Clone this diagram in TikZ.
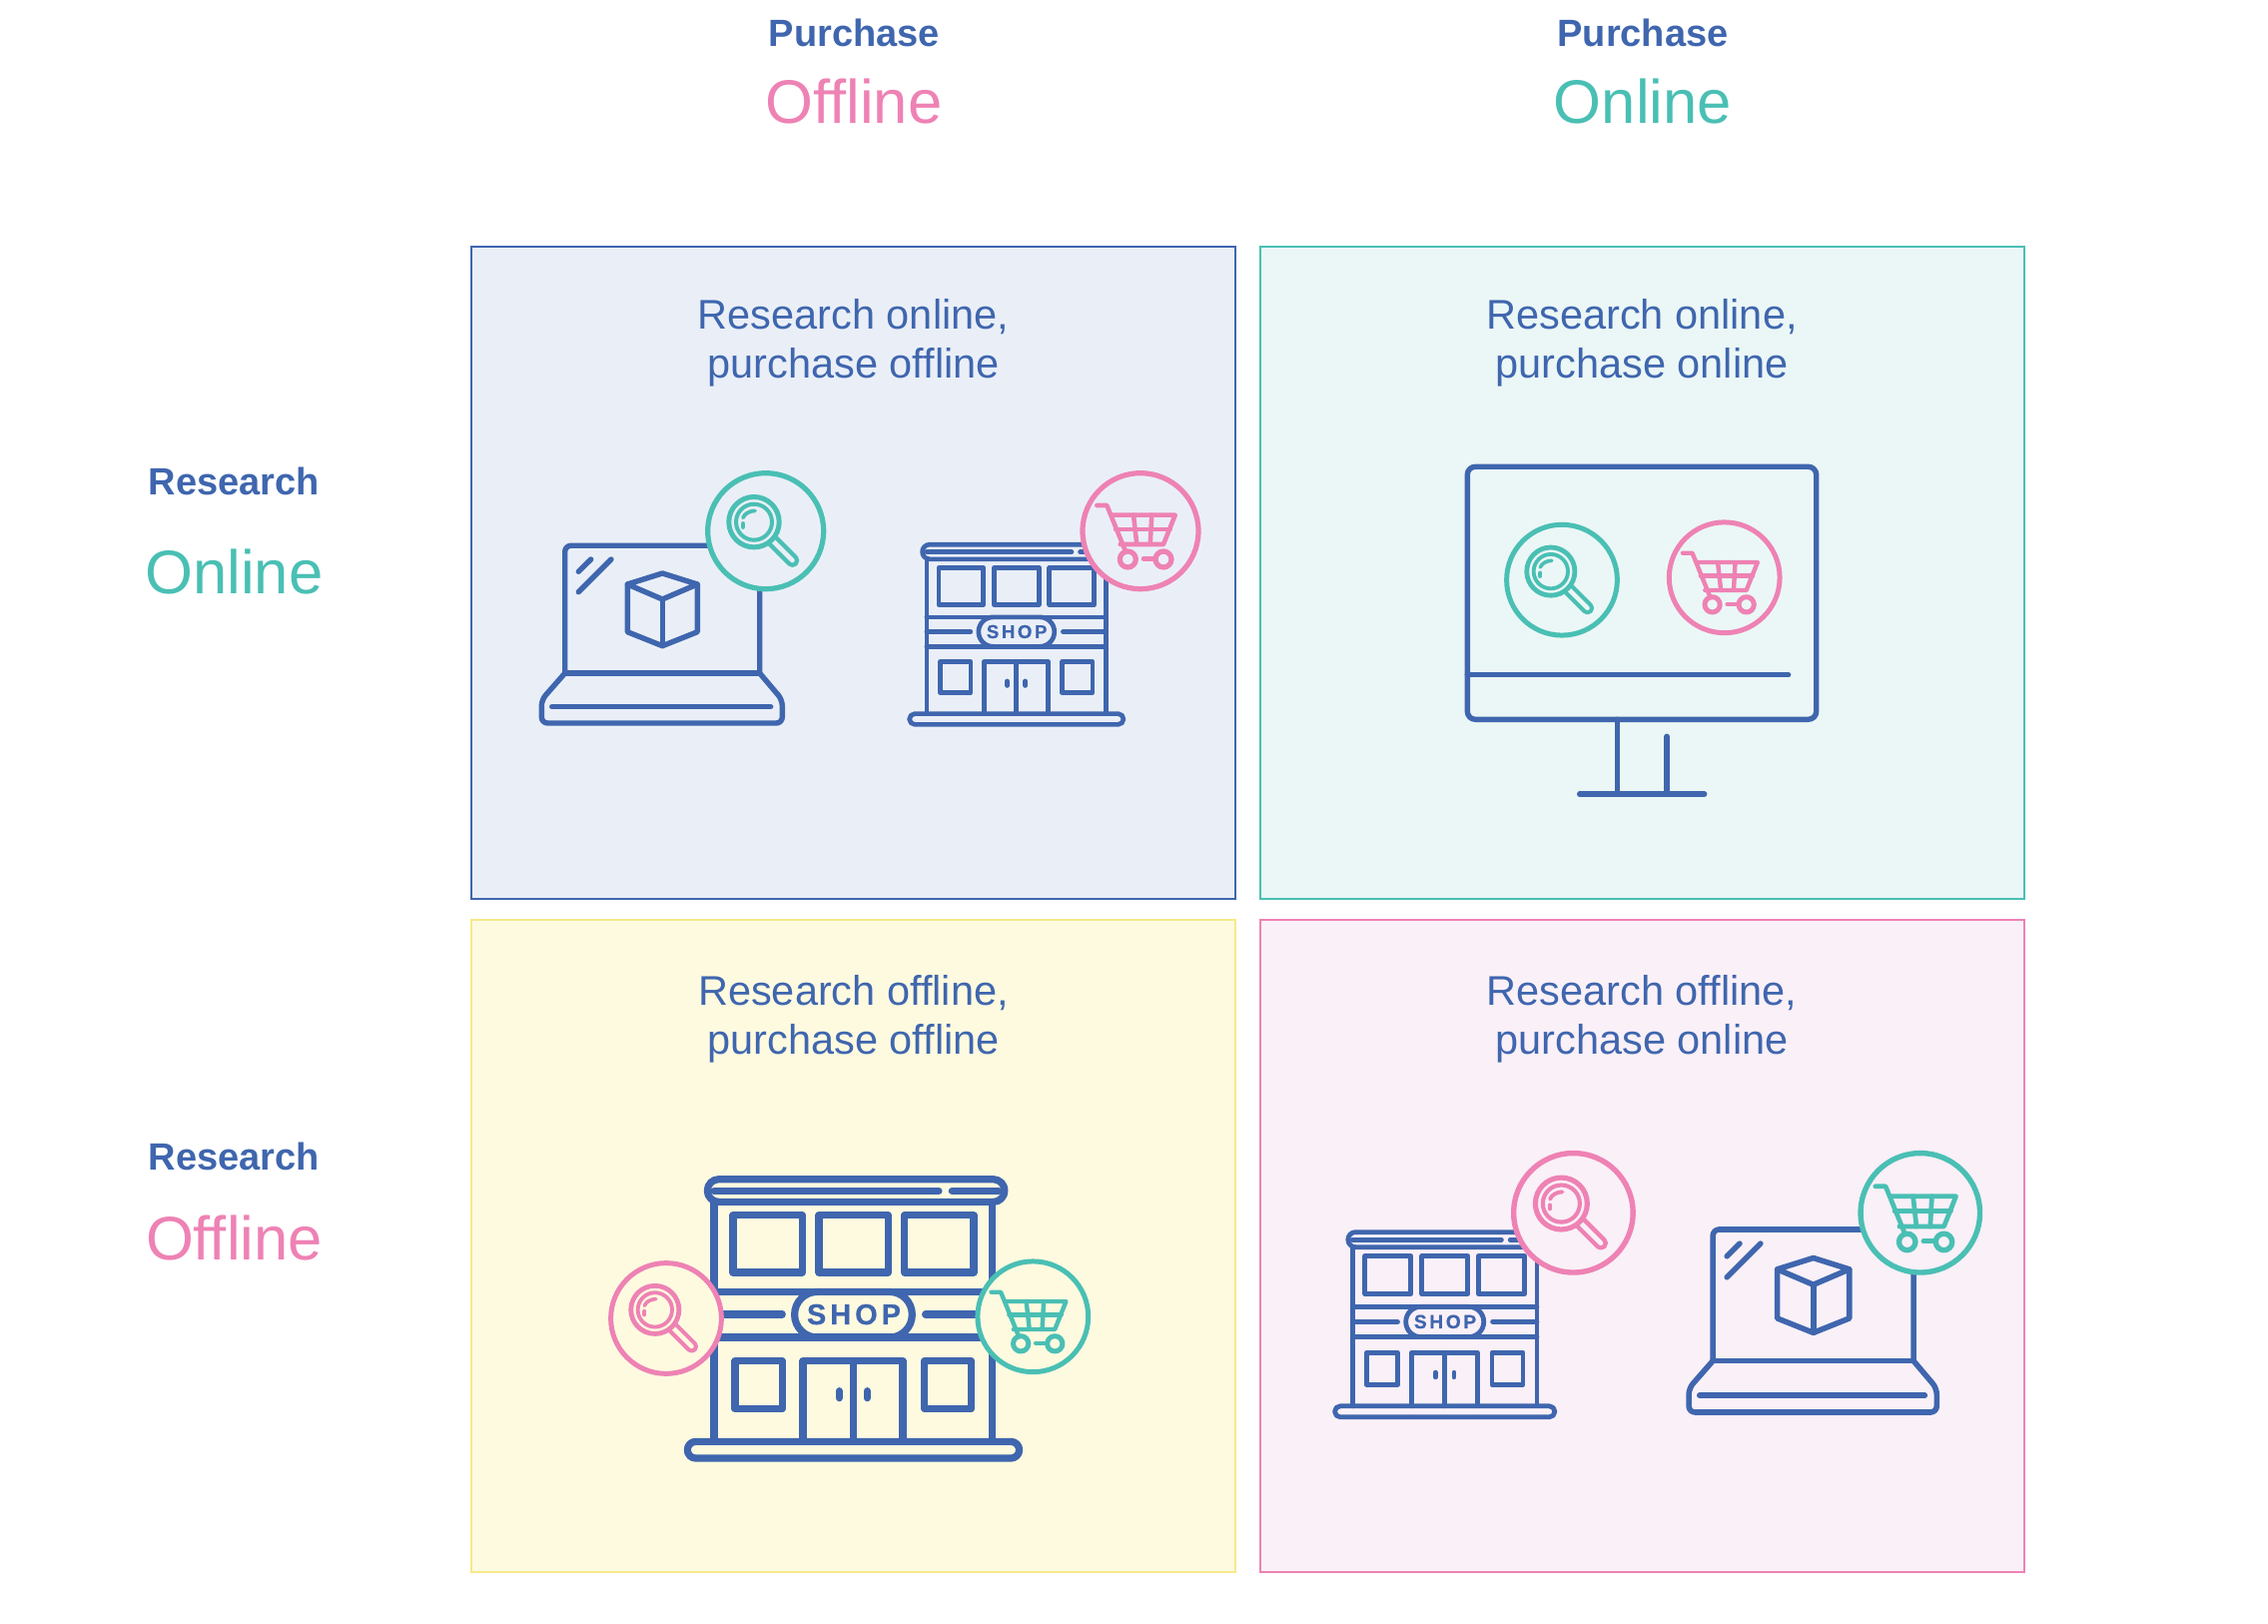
\documentclass[tikz,border=0pt]{standalone}
\usepackage{fontspec}
\setmainfont{Liberation Sans}
\newfontfamily\shopfont{Liberation Sans}[LetterSpace=14,BoldFeatures={FakeBold=0.7}]
\definecolor{iblue}{HTML}{3F66AE}
\definecolor{iteal}{HTML}{4ABFB4}
\definecolor{ipink}{HTML}{EE82B4}
\definecolor{iyellow}{HTML}{F7E98A}
\definecolor{bgblue}{HTML}{EAEFF7}
\definecolor{bgteal}{HTML}{EBF7F6}
\definecolor{bgyellow}{HTML}{FEFAE0}
\definecolor{bgpink}{HTML}{FAF0F7}
\tikzset{
  quad/.style={line width=1pt},
  heading/.style={font=\bfseries\fontsize{19}{19}\selectfont,text=iblue,inner sep=0pt},
  bigword/.style={font=\fontsize{30.8}{30.8}\selectfont,inner sep=0pt},
  caption/.style={font=\fontsize{20.75}{24.6}\selectfont,text=iblue,align=center,inner sep=0pt},
  icon/.style={draw=iblue,line cap=round,line join=round},
}
% magnifier badge: x, y, scale, colour, background
\newcommand\magbadge[5]{%
  \begin{scope}[shift={(#1,#2)},scale=#3,line cap=round,line join=round]
    \draw[draw=#4,fill=#5,line width=#3*2.6pt] (0,0) circle[radius=58];
    \begin{scope}[shift={(-11.7,-9)}]
      \draw[draw=#4,line width=#3*2.5pt] (0,0) circle[radius=25.2];
      \draw[draw=#4,line width=#3*2pt] (0,0) circle[radius=18];
      \draw[draw=#4,line width=#3*1.9pt] (-11,-4.3) .. controls (-9.5,-8.5) and (-4,-11.3) .. (1,-11.3);
      \draw[draw=#4,line width=#3*2.2pt] (-11,1.6) -- (-11,5);
      \begin{scope}[rotate=-45]
        \draw[draw=#4,line width=#3*2.1pt,rounded corners=#3*2.2pt] (26.5,-4.6) -- (59,-4.6) -- (59,4.6) -- (26.5,4.6);
      \end{scope}
    \end{scope}
  \end{scope}}
% cart badge
\newcommand\cartbadge[5]{%
  \begin{scope}[shift={(#1,#2)},scale=#3,line cap=round,line join=round,line width=#3*2.3pt]
    \draw[draw=#4,fill=#5,line width=#3*2.6pt] (0,0) circle[radius=58];
    \draw[draw=#4] (-43.7,-25.7) -- (-33.7,-25.7) -- (-14.7,21);
    \draw[draw=#4] (-28.7,-16) -- (34.7,-16) -- (23,13.3) -- (-20.3,13.3);
    \draw[draw=#4] (-25,-1.7) -- (29.7,-1.7);
    \draw[draw=#4] (-7,-16) -- (-3.7,13.3);
    \draw[draw=#4] (11.3,-16) -- (9.7,13.3);
    \draw[draw=#4,line width=#3*2.6pt] (-12.7,28.3) circle[radius=8];
    \draw[draw=#4,line width=#3*2.6pt] (23,28.3) circle[radius=8];
    \draw[draw=#4] (3,27.7) -- (15,27.7);
  \end{scope}}
% laptop with box on its screen: x, y, scale
\newcommand\laptopicon[3]{%
  \begin{scope}[shift={(#1,#2)},scale=#3,icon,line width=#3*2.7pt]
    \draw[rounded corners=#3*3pt] (-97.6,-50) -- (-97.6,-177.7) -- (97.4,-177.7) -- (97.4,-50);
    \draw (-97.6,-50) -- (97.4,-50);
    \draw[rounded corners=#3*3pt] (-97.6,-50) -- (-121,-23.3) -- (-121,0) -- (120,0) -- (120,-23.3) -- (97.4,-50);
    \draw (-110.6,-16.3) -- (108.4,-16.3);
    \draw (-35,-139) -- (0,-150) -- (35,-139) -- (0,-124) -- cycle;
    \draw (-35,-139) -- (-35,-91.3) -- (0,-77.3) -- (35,-91.3) -- (35,-139);
    \draw (0,-124) -- (0,-77.3);
    \draw (-84,-151.7) -- (-71.6,-164);
    \draw (-84,-131.3) -- (-51.3,-164);
  \end{scope}}
% shop front: node name, x, y, scale
\newcommand\shopicon[4]{%
  \pgfmathsetmacro\shopfs{43.3*#4}%
  \begin{scope}[shift={(#2,#3)},scale=#4,icon,line width=#4*10.8pt]
    \draw[rounded corners=#4*17pt] (-438,-813) rectangle (455,-745);
    \draw (-418,-778) -- (257,-778);
    \draw (297,-778) -- (437,-778);
    \draw (-418,-745) -- (-418,-25);
    \draw (418,-745) -- (418,-25);
    \draw (-361,-705) rectangle (-153,-533);
    \draw (-103,-705) rectangle (105,-533);
    \draw (154,-705) rectangle (362,-533);
    \draw (-418,-475) -- (418,-475);
    \draw (-418,-338) -- (418,-338);
    \draw[rounded corners=#4*34pt] (-176,-475) rectangle (177,-338);
    \draw (-418,-407) -- (-213,-407);
    \draw (217,-407) -- (418,-407);
    \node[inner sep=0pt,text=iblue,font=\shopfont\bfseries\fontsize{\shopfs}{\shopfs}\selectfont] (#1) at (2,-407) {SHOP};
    \draw (-355,-267) rectangle (-213,-123);
    \draw (214,-267) rectangle (355,-123);
    \draw (-151,-25) -- (-151,-267) -- (149,-267) -- (149,-25);
    \draw (0,-267) -- (0,-25);
    \draw (-42,-177) -- (-42,-156);
    \draw (42,-177) -- (42,-156);
    \draw[rounded corners=#4*12.5pt] (-498,-25) rectangle (499,25);
  \end{scope}}
\begin{document}
\begin{tikzpicture}[x=0.5pt,y=-0.5pt]
\useasboundingbox (0,0) rectangle (2271,1626);
% quadrants
\draw[quad,draw=iblue,fill=bgblue] (471.7,247) rectangle (1237,899.5);
\draw[quad,draw=iteal,fill=bgteal] (1261.7,247) rectangle (2027,899.5);
\draw[quad,draw=iyellow,fill=bgyellow] (471.7,921) rectangle (1237,1574);
\draw[quad,draw=ipink,fill=bgpink] (1261.7,921) rectangle (2027,1574);
% headings
\node[heading] (pa) at (855.5,33) {Purchase};
\node[bigword,text=ipink] (pb) at (855,101.5) {Offline};
\node[heading] (pc) at (1645,33) {Purchase};
\node[bigword,text=iteal] (pd) at (1645,101.5) {Online};
\node[heading] (ra) at (234.5,482) {Research};
\node[bigword,text=iteal] (rb) at (234.5,572.5) {Online};
\node[heading] (rc) at (234.5,1158) {Research};
\node[bigword,text=ipink] (rd) at (234.5,1239.5) {Offline};
% captions
\node[caption] (ca) at (854.5,343) {Research online,\\purchase offline};
\node[caption] (cb) at (1644,343) {Research online,\\purchase online};
\node[caption] (cc) at (854.5,1020) {Research offline,\\purchase offline};
\node[caption] (cd) at (1644,1020) {Research offline,\\purchase online};
% top left
\laptopicon{663.3}{724}{1}
\magbadge{766.7}{531.7}{1}{iteal}{bgblue}
\shopicon{shopa}{1017.7}{720}{0.215}
\cartbadge{1142}{531.7}{1}{ipink}{bgblue}
% top right: monitor
\begin{scope}[icon,line width=2.7pt]
  \draw[rounded corners=4pt] (1469.3,467.3) rectangle (1818.7,720.3);
  \draw (1469.3,675.7) -- (1790.7,675.7);
  \draw (1619.3,720.3) -- (1619.3,795);
  \draw (1669,737.3) -- (1669,795);
  \draw (1581.7,795) -- (1706.7,795);
\end{scope}
\magbadge{1564}{580.7}{0.955}{iteal}{bgteal}
\cartbadge{1726.7}{578.3}{0.955}{ipink}{bgteal}
% bottom left: large shop
\shopicon{shopb}{854.3}{1451.7}{0.3333}
\magbadge{667}{1320}{0.955}{ipink}{bgyellow}
\cartbadge{1034.3}{1318.3}{0.955}{iteal}{bgyellow}
% bottom right
\shopicon{shopc}{1446.6}{1413.3}{0.221}
\magbadge{1575.4}{1214.3}{1.03}{ipink}{bgpink}
\laptopicon{1815.7}{1414}{1.03}
\cartbadge{1922.8}{1214.3}{1.03}{iteal}{bgpink}
\end{tikzpicture}
\end{document}
